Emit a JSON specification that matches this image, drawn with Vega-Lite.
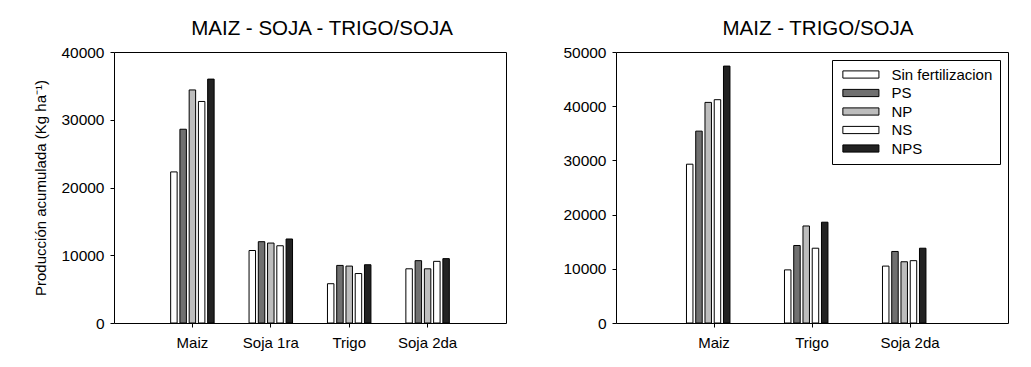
{
  "$schema": "https://vega.github.io/schema/vega-lite/v6.json",
  "padding": {"left": 33, "top": 18, "right": 5, "bottom": 5},
  "background": "white",
  "config": {
    "font": "Liberation Sans",
    "view": {"stroke": "black", "strokeWidth": 1},
    "axis": {"grid": false, "domain": false, "tickColor": "black", "labelColor": "black", "labelFontSize": 15, "titleFontSize": 15, "titleFontWeight": "normal", "titleColor": "black", "tickSize": 4, "labelPadding": 6},
    "title": {"fontSize": 20.5, "fontWeight": "normal", "color": "black", "frame": "group", "anchor": "middle", "offset": 6}
  },
  "datasets": {
    "izq": [
      {"cultivo": "Maiz", "trat": "Sin fertilizacion", "valor": 22300},
      {"cultivo": "Maiz", "trat": "PS", "valor": 28600},
      {"cultivo": "Maiz", "trat": "NP", "valor": 34400},
      {"cultivo": "Maiz", "trat": "NS", "valor": 32700},
      {"cultivo": "Maiz", "trat": "NPS", "valor": 36000},
      {"cultivo": "Soja 1ra", "trat": "Sin fertilizacion", "valor": 10700},
      {"cultivo": "Soja 1ra", "trat": "PS", "valor": 12000},
      {"cultivo": "Soja 1ra", "trat": "NP", "valor": 11800},
      {"cultivo": "Soja 1ra", "trat": "NS", "valor": 11400},
      {"cultivo": "Soja 1ra", "trat": "NPS", "valor": 12400},
      {"cultivo": "Trigo", "trat": "Sin fertilizacion", "valor": 5800},
      {"cultivo": "Trigo", "trat": "PS", "valor": 8500},
      {"cultivo": "Trigo", "trat": "NP", "valor": 8400},
      {"cultivo": "Trigo", "trat": "NS", "valor": 7300},
      {"cultivo": "Trigo", "trat": "NPS", "valor": 8600},
      {"cultivo": "Soja 2da", "trat": "Sin fertilizacion", "valor": 8000},
      {"cultivo": "Soja 2da", "trat": "PS", "valor": 9200},
      {"cultivo": "Soja 2da", "trat": "NP", "valor": 8000},
      {"cultivo": "Soja 2da", "trat": "NS", "valor": 9100},
      {"cultivo": "Soja 2da", "trat": "NPS", "valor": 9500}
    ],
    "der": [
      {"cultivo": "Maiz", "trat": "Sin fertilizacion", "valor": 29300},
      {"cultivo": "Maiz", "trat": "PS", "valor": 35400},
      {"cultivo": "Maiz", "trat": "NP", "valor": 40700},
      {"cultivo": "Maiz", "trat": "NS", "valor": 41200},
      {"cultivo": "Maiz", "trat": "NPS", "valor": 47400},
      {"cultivo": "Trigo", "trat": "Sin fertilizacion", "valor": 9800},
      {"cultivo": "Trigo", "trat": "PS", "valor": 14300},
      {"cultivo": "Trigo", "trat": "NP", "valor": 17900},
      {"cultivo": "Trigo", "trat": "NS", "valor": 13800},
      {"cultivo": "Trigo", "trat": "NPS", "valor": 18600},
      {"cultivo": "Soja 2da", "trat": "Sin fertilizacion", "valor": 10500},
      {"cultivo": "Soja 2da", "trat": "PS", "valor": 13200},
      {"cultivo": "Soja 2da", "trat": "NP", "valor": 11300},
      {"cultivo": "Soja 2da", "trat": "NS", "valor": 11500},
      {"cultivo": "Soja 2da", "trat": "NPS", "valor": 13800}
    ]
  },
  "spacing": 55,
  "resolve": {"scale": {"x": "independent", "y": "independent", "color": "independent"}, "legend": {"color": "independent"}},
  "hconcat": [
    {
      "title": {"text": "MAIZ - SOJA - TRIGO/SOJA", "dx": 12},
      "width": 392,
      "height": 271,
      "data": {"name": "izq"},
      "mark": {"type": "bar", "stroke": "black", "strokeWidth": 1},
      "encoding": {
        "x": {"field": "cultivo", "type": "nominal", "sort": ["Maiz", "Soja 1ra", "Trigo", "Soja 2da"], "scale": {"paddingInner": 0.41, "paddingOuter": 0.705}, "axis": {"title": null, "labelAngle": 0, "labelPadding": 8}},
        "xOffset": {"field": "trat", "type": "nominal", "sort": ["Sin fertilizacion", "PS", "NP", "NS", "NPS"], "scale": {"paddingInner": 0.3, "paddingOuter": 0.15}},
        "y": {"field": "valor", "type": "quantitative", "scale": {"domain": [0, 40000], "nice": false}, "axis": {"values": [0, 10000, 20000, 30000, 40000], "format": "d", "labelFontSize": 15.5, "title": "Producción acumulada  (Kg ha⁻¹)", "titlePadding": 12}},
        "color": {"field": "trat", "type": "nominal", "scale": {"domain": ["Sin fertilizacion", "PS", "NP", "NS", "NPS"], "range": ["#ffffff", "#707070", "#bdbdbd", "#ffffff", "#222222"]}, "legend": null}
      }
    },
    {
      "title": {"text": "MAIZ - TRIGO/SOJA", "dx": 6},
      "width": 392,
      "height": 271,
      "data": {"name": "der"},
      "mark": {"type": "bar", "stroke": "black", "strokeWidth": 1},
      "encoding": {
        "x": {"field": "cultivo", "type": "nominal", "sort": ["Maiz", "Trigo", "Soja 2da"], "scale": {"paddingInner": 0.41, "paddingOuter": 0.705}, "axis": {"title": null, "labelAngle": 0, "labelPadding": 8}},
        "xOffset": {"field": "trat", "type": "nominal", "sort": ["Sin fertilizacion", "PS", "NP", "NS", "NPS"], "scale": {"paddingInner": 0.38, "paddingOuter": 0.15}},
        "y": {"field": "valor", "type": "quantitative", "scale": {"domain": [0, 50000], "nice": false}, "axis": {"values": [0, 10000, 20000, 30000, 40000, 50000], "format": "d", "labelFontSize": 15.5, "title": null}},
        "color": {"field": "trat", "type": "nominal", "scale": {"domain": ["Sin fertilizacion", "PS", "NP", "NS", "NPS"], "range": ["#ffffff", "#707070", "#bdbdbd", "#ffffff", "#222222"]}, "legend": {"title": null, "orient": "top-right", "offset": 8, "fillColor": "white", "strokeColor": "black", "padding": 7, "symbolType": "M-5,-1H5V1H-5Z", "symbolSize": 52, "symbolOffset": 14.4, "symbolStrokeColor": "black", "symbolStrokeWidth": 1, "labelFontSize": 15, "labelColor": "black", "labelOffset": 23, "rowPadding": 2.5}}
      }
    }
  ]
}
